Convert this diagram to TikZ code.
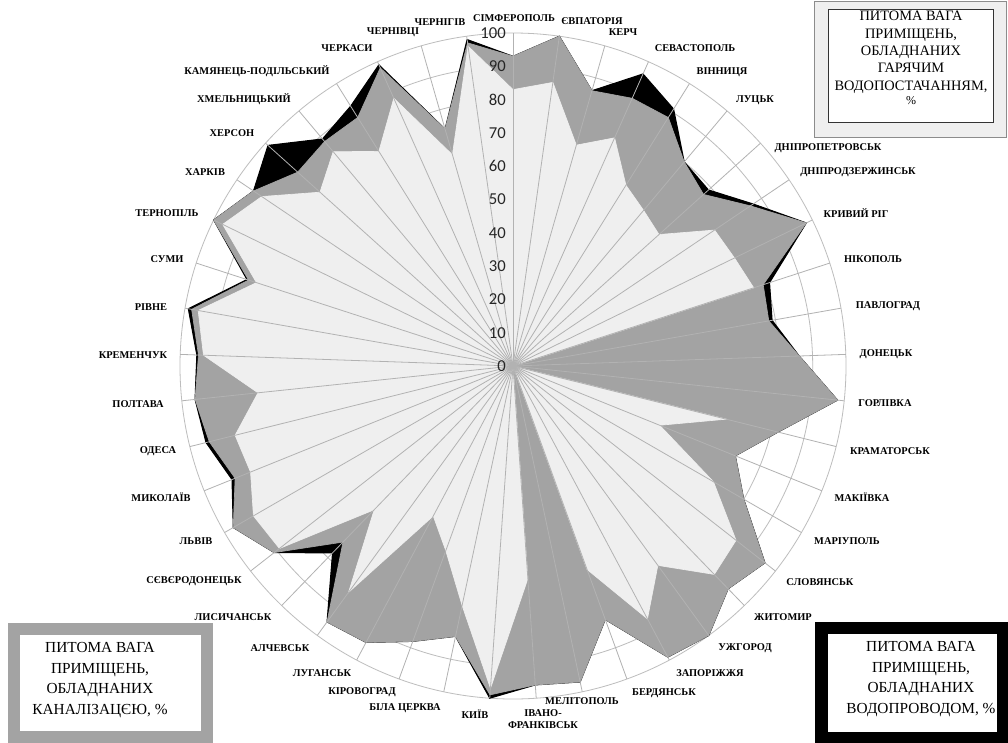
\documentclass[tikz,border=0pt]{standalone}
\usepackage{fontspec}
\setmainfont{Liberation Serif}
\newfontfamily\numfont{Carlito}
\definecolor{sewgray}{HTML}{A3A3A3}
\definecolor{hotgray}{HTML}{EFEFEF}
\definecolor{ringgray}{HTML}{BDBDBD}
\definecolor{spokegray}{HTML}{B2B2B2}
\tikzset{
  citylab/.style={font=\bfseries\fontsize{7.8}{8.5}\selectfont, inner sep=0pt, align=center},
  vallab/.style={font=\numfont\fontsize{12.5}{14}\selectfont, text=black!85, anchor=east, inner sep=0pt},
  legtext/.style={font=\fontsize{11.5}{15.5}\selectfont, align=center, inner sep=0pt},
  ring/.style={draw=ringgray, line width=0.6pt},
  spoke/.style={draw=spokegray, line width=0.6pt},
  wsup/.style={fill=black, draw=black, line width=0.8pt, line join=miter},
  sewer/.style={fill=sewgray, draw=sewgray, line width=0.5pt},
  hotw/.style={fill=hotgray, draw=hotgray, line width=0.5pt}
}
\begin{document}
\begin{tikzpicture}[x=0.75pt,y=-0.75pt]
\useasboundingbox (0,0) rectangle (1008,743);
\fill[white] (0,0) rectangle (1008,743);

% radar: rings, three series, spokes, scale
\begin{scope}[shift={(513,366)}]
  \foreach \k in {1,...,10}
    \draw[ring] (0,0) circle[radius={\k*24.975pt}];
  % water supply
  \fill[wsup] (-90:{3.33*93}) \foreach \v [count=\i] in
    {100,86,96,91,80,79,87,98,81,79,86,98,82,72,80,96,93,100,99,81,97,96,100,
     83,88,94,95,78,91,97,91,95,96,95,99,84,100,94,99,89,92,99,74,99}
    { -- ({8*\i-90}:{3.33*\v}) } -- cycle;
  % sewerage
  \filldraw[sewer] (-90:{3.33*93}) \foreach \v [count=\i] in
    {100,86,88,88,80,77,86,98,79,78,86,98,82,72,80,96,93,100,99,81,97,96,99,
     83,88,94,95,73.5,91,97,90,94,96,94.5,98,83.5,100,94,87,88,88,98,74,98}
    { -- ({8*\i-90}:{3.33*\v}) } -- cycle;
  % hot water
  \filldraw[hotw] (-90:{3.33*83}) \foreach \v [count=\i] in
    {86,69,75,64,61,59,73,74,76,0,0,0,66,47.5,69.5,85,87,74,86,65,0,64,97,
     73.5,59,51,84,60,89,90,85,86,77,93,96,81,97,91,78,84,76,88,66,97}
    { -- ({8*\i-90}:{3.33*\v}) } -- cycle;
  \foreach \i in {0,...,44}
    \draw[spoke] (0,0) -- ({8*\i-90}:333);
  \foreach \v in {0,10,...,100}
    \node[vallab] (val\v) at (-7,{-3.33*\v}) {\v};
\end{scope}

% city labels
\node[citylab] (simferopol) at (514,18) {СІМФЕРОПОЛЬ};
\node[citylab] (yevpatoria) at (592,21) {ЄВПАТОРІЯ};
\node[citylab] (kerch) at (623,32) {КЕРЧ};
\node[citylab] (sevastopol) at (695,48) {СЕВАСТОПОЛЬ};
\node[citylab] (vinnytsia) at (722,72) {ВІННИЦЯ};
\node[citylab] (lutsk) at (755,100) {ЛУЦЬК};
\node[citylab] (dnipropetr) at (828,148) {ДНІПРОПЕТРОВСЬК};
\node[citylab] (dniprodz) at (858,172) {ДНІПРОДЗЕРЖИНСЬК};
\node[citylab] (kryvyirih) at (856,213) {КРИВИЙ РІГ};
\node[citylab] (nikopol) at (873,259) {НІКОПОЛЬ};
\node[citylab] (pavlohrad) at (888,306) {ПАВЛОГРАД};
\node[citylab] (donetsk) at (886,354) {ДОНЕЦЬК};
\node[citylab] (horlivka) at (885,403) {ГОРЛІВКА};
\node[citylab] (kramatorsk) at (890,451) {КРАМАТОРСЬК};
\node[citylab] (makiivka) at (862,497) {МАКІЇВКА};
\node[citylab] (mariupol) at (847,541) {МАРІУПОЛЬ};
\node[citylab] (sloviansk) at (820,582) {СЛОВЯНСЬК};
\node[citylab] (zhytomyr) at (783,617) {ЖИТОМИР};
\node[citylab] (uzhhorod) at (745,648) {УЖГОРОД};
\node[citylab] (zaporizh) at (710,673) {ЗАПОРІЖЖЯ};
\node[citylab] (berdiansk) at (664,693) {БЕРДЯНСЬК};
\node[citylab] (melitopol) at (582,701) {МЕЛІТОПОЛЬ};
\node[citylab] (ivfrank) at (543,719) {ІВАНО-\\ФРАНКІВСЬК};
\node[citylab] (kyiv) at (475,714) {КИЇВ};
\node[citylab] (bilatserk) at (405,708) {БІЛА ЦЕРКВА};
\node[citylab] (kirovohrad) at (362,692) {КІРОВОГРАД};
\node[citylab] (luhansk) at (322,673) {ЛУГАНСЬК};
\node[citylab] (alchevsk) at (280,648) {АЛЧЕВСЬК};
\node[citylab] (lysychansk) at (233,617) {ЛИСИЧАНСЬК};
\node[citylab] (sievierod) at (194,581) {СЄВЄРОДОНЕЦЬК};
\node[citylab] (lviv) at (196,541) {ЛЬВІВ};
\node[citylab] (mykolaiv) at (161,497) {МИКОЛАЇВ};
\node[citylab] (odesa) at (158,451) {ОДЕСА};
\node[citylab] (poltava) at (138,404) {ПОЛТАВА};
\node[citylab] (kremenchuk) at (133,355) {КРЕМЕНЧУК};
\node[citylab] (rivne) at (151,307) {РІВНЕ};
\node[citylab] (sumy) at (167,259) {СУМИ};
\node[citylab] (ternopil) at (167,213) {ТЕРНОПІЛЬ};
\node[citylab] (kharkiv) at (205,172) {ХАРКІВ};
\node[citylab] (kherson) at (232,133) {ХЕРСОН};
\node[citylab] (khmeln) at (244,99) {ХМЕЛЬНИЦЬКИЙ};
\node[citylab] (kamianets) at (257,71) {КАМЯНЕЦЬ-ПОДІЛЬСЬКИЙ};
\node[citylab] (cherkasy) at (347,48) {ЧЕРКАСИ};
\node[citylab] (chernivtsi) at (393,32) {ЧЕРНІВЦІ};
\node[citylab] (chernihiv) at (440,22) {ЧЕРНІГІВ};

% legends
\filldraw[fill=hotgray, draw=black!45, line width=0.7pt] (814,1) rectangle (1006,137);
\filldraw[fill=white, draw=black!80, line width=0.7pt] (828,9) rectangle (993,122);
\node[legtext, font=\fontsize{10.8}{13}\selectfont] (hotleg) at (911,58)
  {ПИТОМА ВАГА\\ПРИМІЩЕНЬ,\\ОБЛАДНАНИХ\\ГАРЯЧИМ\\ВОДОПОСТАЧАННЯМ,\\[-2pt]{\fontsize{9}{9}\selectfont\%}};

\draw[draw=sewgray, line width=9pt] (14,629) rectangle (207,737);
\node[legtext] (sewleg) at (100,680)
  {ПИТОМА ВАГА\\ПРИМІЩЕНЬ,\\ОБЛАДНАНИХ\\КАНАЛІЗАЦЄЮ, \%};

\draw[draw=black, line width=9.5pt] (821.5,628) rectangle (1003,738);
\node[legtext] (wsupleg) at (921,679)
  {ПИТОМА ВАГА\\ПРИМІЩЕНЬ,\\ОБЛАДНАНИХ\\ВОДОПРОВОДОМ, \%};
\end{tikzpicture}
\end{document}
